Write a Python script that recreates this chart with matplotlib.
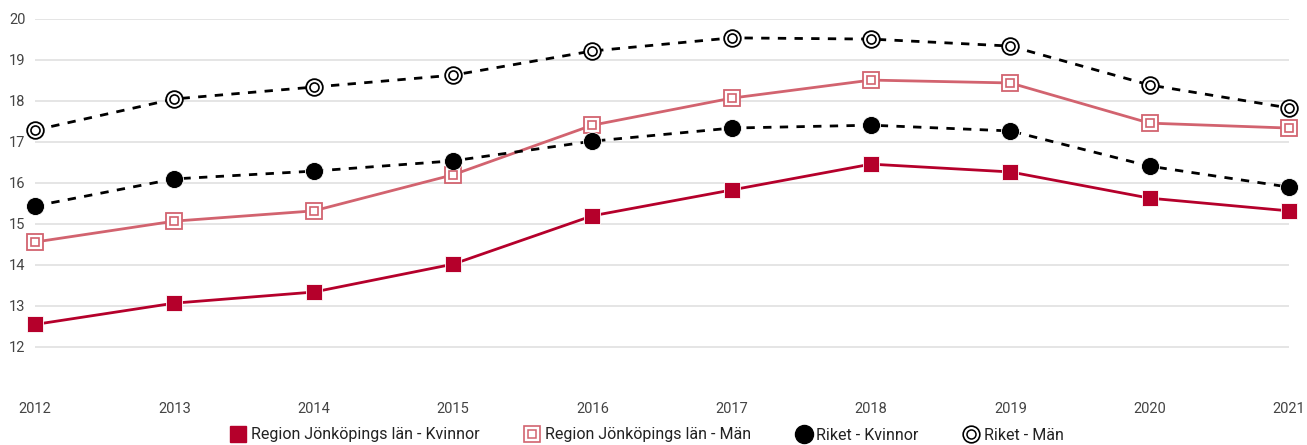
import matplotlib
matplotlib.use("Agg")
import matplotlib.pyplot as plt
from matplotlib.lines import Line2D
from matplotlib.legend_handler import HandlerTuple

plt.rcParams['font.family'] = ['Roboto', 'DejaVu Sans']

years = [2012, 2013, 2014, 2015, 2016, 2017, 2018, 2019, 2020, 2021]
region_kvinnor = [12.55, 13.07, 13.34, 14.02, 15.20, 15.83, 16.46, 16.27, 15.63, 15.32]
region_man = [14.56, 15.07, 15.32, 16.20, 17.41, 18.07, 18.51, 18.44, 17.46, 17.34]
riket_kvinnor = [15.44, 16.10, 16.29, 16.54, 17.02, 17.34, 17.41, 17.27, 16.41, 15.90]
riket_man = [17.29, 18.05, 18.34, 18.63, 19.22, 19.54, 19.51, 19.34, 18.39, 17.83]
labels = ["Region Jönköpings län - Kvinnor", "Region Jönköpings län - Män",
          "Riket - Kvinnor", "Riket - Män"]

RED = "#b5002b"
PINK = "#d2636f"
BLACK = "#000000"

W, H = 1307, 445
fig = plt.figure(figsize=(W / 100, H / 100), dpi=100)
ax = fig.add_axes([35 / W, 1 - 388 / H, (1289 - 35) / W, (388 - 19) / H])
ax.set_xlim(2012, 2021)
ax.set_ylim(11, 20)

for v in range(12, 21):
    ax.axhline(v, color="#e0e0e0", lw=1.2, zorder=0)

ax.plot(years, region_kvinnor, color=RED, lw=2.0, zorder=3, clip_on=False)
ax.plot(years, region_kvinnor, ls="none", marker="s", ms=11.5, mfc=RED, mec="white",
        mew=0.6, zorder=4, clip_on=False)

ax.plot(years, region_man, color=PINK, lw=2.0, zorder=3, clip_on=False)
ax.plot(years, region_man, ls="none", marker="s", ms=11, mfc="white", mec=PINK,
        mew=1.3, zorder=4, clip_on=False)
ax.plot(years, region_man, ls="none", marker="s", ms=5.5, mfc="white", mec=PINK,
        mew=1.2, zorder=5, clip_on=False)

ax.plot(years, riket_kvinnor, color=BLACK, lw=2.0, ls=(0, (3, 3)), zorder=3, clip_on=False)
ax.plot(years, riket_kvinnor, ls="none", marker="o", ms=13, mfc=BLACK, mec="white",
        mew=0.6, zorder=4, clip_on=False)

ax.plot(years, riket_man, color=BLACK, lw=2.0, ls=(0, (3, 3)), zorder=3, clip_on=False)
ax.plot(years, riket_man, ls="none", marker="o", ms=12, mfc="white", mec=BLACK,
        mew=1.3, zorder=4, clip_on=False)
ax.plot(years, riket_man, ls="none", marker="o", ms=6.5, mfc="white", mec=BLACK,
        mew=1.2, zorder=5, clip_on=False)

for s in ax.spines.values():
    s.set_visible(False)
ax.set_xticks(years)
ax.set_xticklabels([str(y) for y in years])
ax.set_yticks(range(12, 21))
ax.tick_params(axis="both", length=0, labelsize=10.5, labelcolor="#444444")
ax.tick_params(axis="x", pad=10)
ax.tick_params(axis="y", pad=7)

h1 = Line2D([], [], ls="none", marker="s", ms=12, mfc=RED, mec=RED)
h2 = (Line2D([], [], ls="none", marker="s", ms=11, mfc="white", mec=PINK, mew=1.2),
      Line2D([], [], ls="none", marker="s", ms=5.5, mfc="white", mec=PINK, mew=1.1))
h3 = Line2D([], [], ls="none", marker="o", ms=13, mfc=BLACK, mec=BLACK)
h4 = (Line2D([], [], ls="none", marker="o", ms=12, mfc="white", mec=BLACK, mew=1.2),
      Line2D([], [], ls="none", marker="o", ms=6.5, mfc="white", mec=BLACK, mew=1.1))
leg = fig.legend([h1, h2, h3, h4], labels, loc="center", bbox_to_anchor=(0.495, 1 - 435 / H),
                 ncol=4, frameon=False, fontsize=11.5, handlelength=1.0,
                 handletextpad=0.3, columnspacing=2.8,
                 handler_map={tuple: HandlerTuple(ndivide=1, pad=0)})
for t in leg.get_texts():
    t.set_color("#222222")

fig.savefig("out.png", dpi=100)
